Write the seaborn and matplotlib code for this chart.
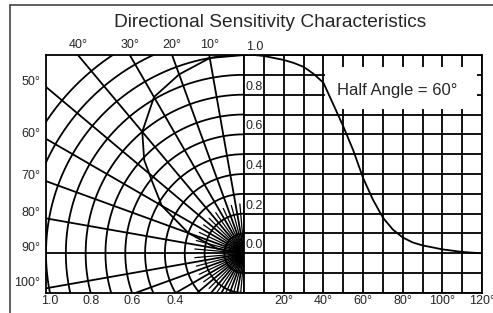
import numpy as np
import pandas as pd
import matplotlib.pyplot as plt
import seaborn as sns
from matplotlib.patches import Rectangle
from matplotlib.lines import Line2D

# Relative sensitivity vs angle (right half)
angle_deg = [0, 5, 10, 15, 20, 25, 30, 35, 40, 45, 50, 55, 60, 65, 70, 75, 80, 85, 90, 100, 110, 120]
sensitivity = [1.0, 1.0, 0.995, 0.985, 0.975, 0.96, 0.94, 0.905, 0.86, 0.75, 0.64, 0.52, 0.38, 0.27, 0.18, 0.12, 0.08, 0.055, 0.04, 0.02, 0.007, 0.0]

# Polar pattern (left half)
polar_angle = [0, 10, 20, 30, 40, 47, 52, 60, 70, 80, 90]
polar_radius = [1.0, 1.0, 0.96, 0.91, 0.8, 0.69, 0.59, 0.48, 0.3, 0.14, 0.03]

# grid / labels
ring_radii = [0.1, 0.2, 0.3, 0.4, 0.5, 0.6, 0.7, 0.8, 0.9, 1.0, 1.1, 1.2]
spoke_angles = list(range(0, 181, 10))
top_angle_labels = [40, 30, 20, 10]
left_angle_labels = [50, 60, 70, 80, 90, 100]
radius_labels = [1.0, 0.8, 0.6, 0.4]
x_tick_labels = [20, 40, 60, 80, 100, 120]
y_tick_labels = [0.0, 0.2, 0.4, 0.6, 0.8, 1.0]
x_grid = list(range(0, 121, 10))
y_grid = [-0.2, -0.1, 0.0, 0.1, 0.2, 0.3, 0.4, 0.5, 0.6, 0.7, 0.8, 0.9, 1.0]

sns.set_style("white")
plt.rcParams['font.family'] = ['Liberation Sans', 'DejaVu Sans']
narrow = ['Liberation Sans Narrow', 'Liberation Sans', 'DejaVu Sans']

fig = plt.figure(figsize=(4.93, 3.13), dpi=100)
ax = fig.add_axes([46 / 493, 1 - 293 / 313, 436 / 493, 238 / 313])
ax.set_xlim(-1.0, 1.2)
ax.set_ylim(-0.2, 1.0)
ax.set_xticks([])
ax.set_yticks([])
for s in ax.spines.values():
    s.set_color('black')
    s.set_linewidth(1.3)
    s.set_zorder(6)

lw = 1.3
# cartesian grid
ax.vlines([a / 100 for a in x_grid], -0.2, 1.0, color='black', lw=lw, zorder=1)
ax.hlines(y_grid, 0, 1.2, color='black', lw=lw, zorder=1)

# polar grid, clipped to left half
clip = Rectangle((-1.0, -0.2), 1.0, 1.2, transform=ax.transData)
t = np.radians(np.linspace(0, 180, 400))
for r in ring_radii:
    ln, = ax.plot(-r * np.sin(t), r * np.cos(t), color='black', lw=lw, zorder=1)
    ln.set_clip_path(clip)
for a in spoke_angles:
    th = np.radians(a)
    ln, = ax.plot([0, -2 * np.sin(th)], [0, 2 * np.cos(th)], color='black', lw=lw, zorder=1)
    ln.set_clip_path(clip)
for a in range(5, 180, 10):
    th = np.radians(a)
    ln, = ax.plot([0, -0.25 * np.sin(th)], [0, 0.25 * np.cos(th)], color='black', lw=0.9, zorder=1)
    ln.set_clip_path(clip)

# label box
ax.add_patch(Rectangle((0.41, 0.73), 1.177 - 0.41, 0.94 - 0.73, facecolor='white',
                       edgecolor='none', zorder=3))
ax.text(0.774, 0.823, 'Half Angle = 60°', fontsize=12, ha='center', va='center', zorder=5)

# curves
df = pd.DataFrame({'x': np.array(angle_deg) / 100, 'y': sensitivity})
sns.lineplot(data=df, x='x', y='y', color='black', lw=1.3, ax=ax, zorder=4)
pa = np.radians(polar_angle)
dp = pd.DataFrame({'x': -np.array(polar_radius) * np.sin(pa), 'y': np.array(polar_radius) * np.cos(pa)})
sns.lineplot(data=dp, x='x', y='y', color='black', lw=1.3, sort=False, ax=ax, zorder=4)
ax.set_xlabel('')
ax.set_ylabel('')

# tick labels
for a in top_angle_labels:
    ax.text(-np.tan(np.radians(a)), 1.02, f'{a}°', family=narrow, fontsize=9,
            ha='center', va='bottom', clip_on=False)
for a in left_angle_labels:
    ax.text(-1.03, 1 / np.tan(np.radians(a)) + 0.025, f'{a}°', family=narrow, fontsize=9,
            ha='right', va='center', clip_on=False)
for r in radius_labels:
    ax.text(-np.sqrt(r ** 2 - 0.2 ** 2), -0.21, f'{r:.1f}', family=narrow, fontsize=9,
            ha='center', va='top', clip_on=False)
for a in x_tick_labels:
    ax.text(a / 100, -0.21, f'{a}°', family=narrow, fontsize=9,
            ha='center', va='top', clip_on=False)
for v in y_tick_labels:
    ax.text(0.008, v + 0.01, f'{v:.1f}', family=narrow, fontsize=9,
            ha='left', va='bottom', clip_on=False, zorder=5)

fig.text(270 / 493, 1 - 27 / 313, 'Directional Sensitivity Characteristics',
         fontsize=13.8, ha='center', va='baseline')

# outer frame (cut by image edges)
fig.add_artist(Line2D([10 / 493, 1], [1 - 5 / 313, 1 - 5 / 313], transform=fig.transFigure,
                      color='#444444', lw=1.2))
fig.add_artist(Line2D([10 / 493, 10 / 493], [0, 1 - 5 / 313], transform=fig.transFigure,
                      color='#444444', lw=1.2))

fig.savefig('out.png', dpi=100)
